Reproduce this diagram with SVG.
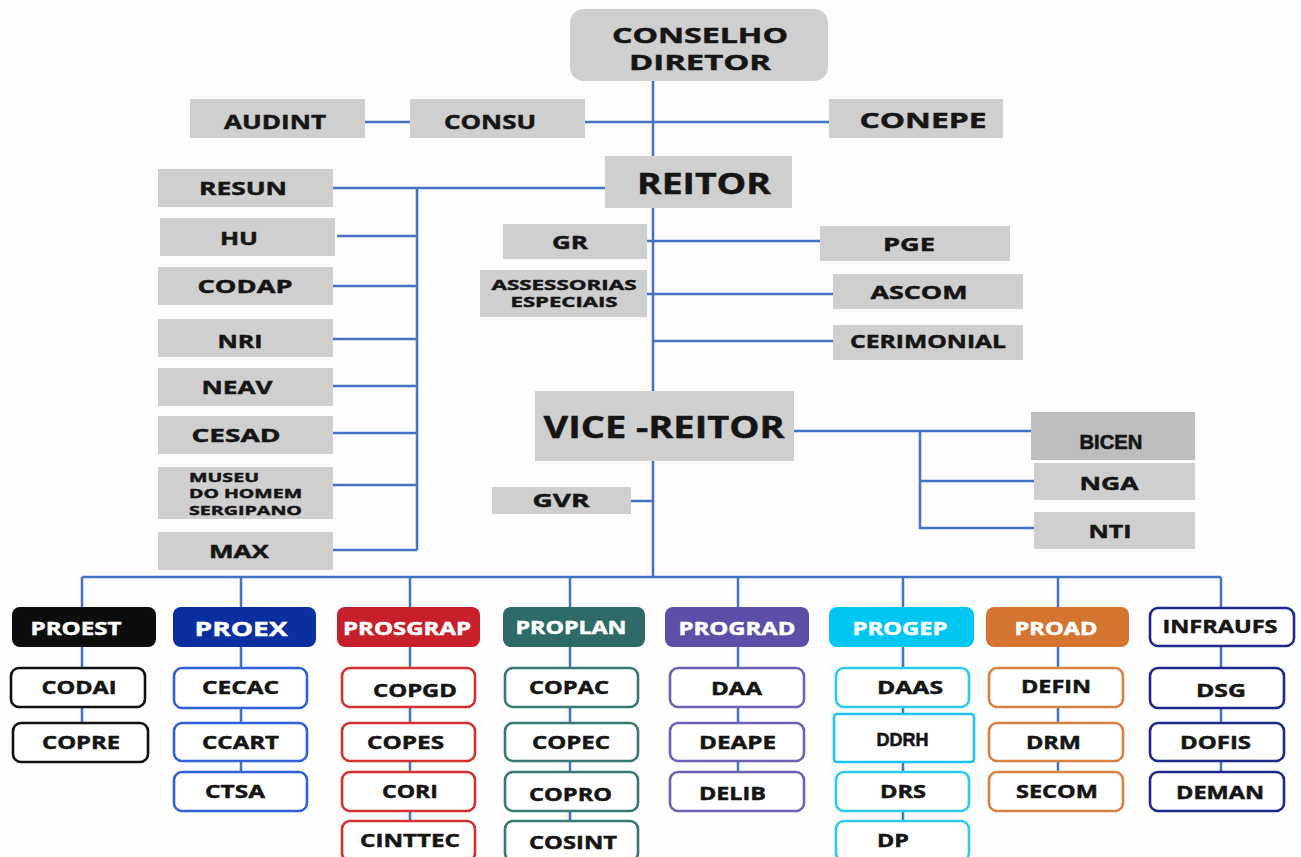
<svg xmlns="http://www.w3.org/2000/svg" width="1301" height="857" viewBox="0 0 1301 857" font-size="18">
<style>
.g{fill:#cfcfcf}
.t{font-family:"Open Sans","DejaVu Sans",sans-serif;font-weight:700;fill:#151515;stroke:#151515;stroke-width:0.45;text-anchor:middle}
.w{fill:#fff;stroke:#fff}
.ln{stroke:#4472c4;stroke-width:2.5;fill:none}
.c{fill:#fff;stroke-width:2.6}
.h{font-size:17px}
.cal{font-family:"Liberation Sans",Arial,sans-serif;font-weight:700;stroke-width:0.6}
</style>
<rect width="1301" height="857" fill="#fdfdfd"/>
<g id="connectors" class="ln">
<path d="M653 81V577"/>
<path d="M365 122H410M585 122H829"/>
<path d="M333 188H605M417 188V550"/>
<path d="M337 236H417M333 286H417M333 339H417M333 386H417M333 433H417M333 485H417M333 550H417"/>
<path d="M647 241H820M647 294H833M653 341H833"/>
<path d="M794 431H1032M920 431V528H1034M920 481H1034"/>
<path d="M631 501H653"/>
<path d="M82 577H1221"/>
<path d="M82 577V723M241 577V772M410 577V821M570 577V821M738 577V772M903 577V821M1058 577V772M1221 577V772"/>
</g>
<g id="conselho"><rect x="570" y="9" width="258" height="72" rx="14" class="g"/><text class="t" x="700" y="43" font-size="21" textLength="176" lengthAdjust="spacingAndGlyphs">CONSELHO</text><text class="t" x="700" y="70" font-size="21" textLength="142" lengthAdjust="spacingAndGlyphs">DIRETOR</text></g>
<g id="audint"><rect x="190" y="99" width="175" height="39" class="g"/><text class="t" x="275" y="129" font-size="19" textLength="102" lengthAdjust="spacingAndGlyphs">AUDINT</text></g>
<g id="consu"><rect x="410" y="99" width="175" height="39" class="g"/><text class="t" x="490" y="129" font-size="19" textLength="92" lengthAdjust="spacingAndGlyphs">CONSU</text></g>
<g id="conepe"><rect x="829" y="99" width="174" height="39" class="g"/><text class="t" x="923" y="128" font-size="22" textLength="127" lengthAdjust="spacingAndGlyphs">CONEPE</text></g>
<g id="reitor"><rect x="605" y="156" width="187" height="52" class="g"/><text class="t" x="704" y="194" font-size="28" textLength="134" lengthAdjust="spacingAndGlyphs">REITOR</text></g>
<g id="resun"><rect x="158" y="169" width="175" height="38" class="g"/><text class="t" x="243" y="195" textLength="88" lengthAdjust="spacingAndGlyphs">RESUN</text></g>
<g id="hu"><rect x="160" y="218" width="175" height="38" class="g"/><text class="t" x="239" y="245" textLength="38" lengthAdjust="spacingAndGlyphs">HU</text></g>
<g id="codap"><rect x="158" y="267" width="175" height="38" class="g"/><text class="t" x="245" y="293" textLength="95" lengthAdjust="spacingAndGlyphs">CODAP</text></g>
<g id="nri"><rect x="158" y="319" width="175" height="38" class="g"/><text class="t" x="240" y="348" textLength="45" lengthAdjust="spacingAndGlyphs">NRI</text></g>
<g id="neav"><rect x="158" y="368" width="175" height="38" class="g"/><text class="t" x="237" y="394" textLength="71" lengthAdjust="spacingAndGlyphs">NEAV</text></g>
<g id="cesad"><rect x="158" y="416" width="175" height="38" class="g"/><text class="t" x="236" y="442" textLength="89" lengthAdjust="spacingAndGlyphs">CESAD</text></g>
<g id="museu"><rect x="158" y="467" width="175" height="52" class="g"/><text class="t" x="189" y="482" font-size="13" style="text-anchor:start" textLength="70" lengthAdjust="spacingAndGlyphs">MUSEU</text><text class="t" x="189" y="498" font-size="13" style="text-anchor:start" textLength="113" lengthAdjust="spacingAndGlyphs">DO HOMEM</text><text class="t" x="189" y="515" font-size="13" style="text-anchor:start" textLength="113" lengthAdjust="spacingAndGlyphs">SERGIPANO</text></g>
<g id="max"><rect x="158" y="532" width="175" height="38" class="g"/><text class="t" x="239" y="558" textLength="60" lengthAdjust="spacingAndGlyphs">MAX</text></g>
<g id="gr"><rect x="503" y="224" width="144" height="35" class="g"/><text class="t" x="570" y="249" textLength="36" lengthAdjust="spacingAndGlyphs">GR</text></g>
<g id="pge"><rect x="820" y="226" width="190" height="35" class="g"/><text class="t" x="909" y="251" textLength="52" lengthAdjust="spacingAndGlyphs">PGE</text></g>
<g id="assessorias"><rect x="480" y="270" width="167" height="47" class="g"/><text class="t" x="564" y="290" font-size="14" textLength="145" lengthAdjust="spacingAndGlyphs">ASSESSORIAS</text><text class="t" x="564" y="307" font-size="14" textLength="107" lengthAdjust="spacingAndGlyphs">ESPECIAIS</text></g>
<g id="ascom"><rect x="833" y="274" width="190" height="35" class="g"/><text class="t" x="919" y="299" textLength="97" lengthAdjust="spacingAndGlyphs">ASCOM</text></g>
<g id="cerimonial"><rect x="833" y="325" width="190" height="35" class="g"/><text class="t" x="928" y="348" font-size="17" textLength="156" lengthAdjust="spacingAndGlyphs">CERIMONIAL</text></g>
<g id="vice-reitor"><rect x="535" y="391" width="259" height="70" class="g"/><text class="t" x="664" y="438" font-size="30" textLength="241" lengthAdjust="spacingAndGlyphs">VICE -REITOR</text></g>
<g id="bicen"><rect x="1031" y="412" width="164" height="48" fill="#bdbdbd"/><text class="t cal" x="1111" y="449" font-size="21" textLength="63" lengthAdjust="spacingAndGlyphs">BICEN</text></g>
<g id="nga"><rect x="1034" y="463" width="161" height="37" class="g"/><text class="t" x="1109" y="490" textLength="59" lengthAdjust="spacingAndGlyphs">NGA</text></g>
<g id="nti"><rect x="1034" y="512" width="161" height="37" class="g"/><text class="t" x="1110" y="538" textLength="43" lengthAdjust="spacingAndGlyphs">NTI</text></g>
<g id="gvr"><rect x="492" y="487" width="139" height="27" class="g"/><text class="t" x="561" y="507" textLength="57" lengthAdjust="spacingAndGlyphs">GVR</text></g>

<g id="proest"><rect x="12" y="607" width="144" height="40" rx="8" fill="#0d0d0d"/><text class="t h w" x="76" y="635" textLength="91" lengthAdjust="spacingAndGlyphs">PROEST</text></g>
<g id="proex"><rect x="173" y="607" width="143" height="40" rx="8" fill="#0b2f9e"/><text class="t w" x="241" y="636" font-size="20" textLength="93" lengthAdjust="spacingAndGlyphs">PROEX</text></g>
<g id="prosgrap"><rect x="337" y="607" width="143" height="40" rx="8" fill="#c8202a"/><text class="t h w" x="407" y="635" textLength="128" lengthAdjust="spacingAndGlyphs">PROSGRAP</text></g>
<g id="proplan"><rect x="503" y="607" width="142" height="40" rx="8" fill="#2d6a68"/><text class="t h w" x="571" y="634" textLength="111" lengthAdjust="spacingAndGlyphs">PROPLAN</text></g>
<g id="prograd"><rect x="665" y="607" width="144" height="40" rx="8" fill="#5b4fa8"/><text class="t h w" x="737" y="635" textLength="117" lengthAdjust="spacingAndGlyphs">PROGRAD</text></g>
<g id="progep"><rect x="829" y="607" width="145" height="40" rx="8" fill="#00c6f2"/><text class="t h w" x="900" y="635" textLength="95" lengthAdjust="spacingAndGlyphs">PROGEP</text></g>
<g id="proad"><rect x="986" y="607" width="143" height="40" rx="8" fill="#d37430"/><text class="t h w" x="1056" y="635" textLength="83" lengthAdjust="spacingAndGlyphs">PROAD</text></g>
<g id="infraufs"><rect x="1150" y="608" width="144" height="38" rx="8" class="c" stroke="#1d2a8a"/><text class="t h" x="1220" y="633" textLength="115" lengthAdjust="spacingAndGlyphs">INFRAUFS</text></g>

<g id="codai"><rect x="11" y="668" width="134" height="39" rx="8" class="c" stroke="#111"/><text class="t h" x="79" y="694" textLength="75" lengthAdjust="spacingAndGlyphs">CODAI</text></g>
<g id="copre"><rect x="13" y="723" width="135" height="39" rx="8" class="c" stroke="#111"/><text class="t h" x="81" y="749" textLength="78" lengthAdjust="spacingAndGlyphs">COPRE</text></g>

<g id="cecac"><rect x="174" y="668" width="133" height="40" rx="8" class="c" stroke="#2f62d6"/><text class="t h" x="240.5" y="694" textLength="77" lengthAdjust="spacingAndGlyphs">CECAC</text></g>
<g id="ccart"><rect x="174" y="723" width="133" height="38" rx="8" class="c" stroke="#2f62d6"/><text class="t h" x="240.5" y="749" textLength="77" lengthAdjust="spacingAndGlyphs">CCART</text></g>
<g id="ctsa"><rect x="174" y="772" width="133" height="39" rx="8" class="c" stroke="#2f62d6"/><text class="t h" x="235" y="798" textLength="60" lengthAdjust="spacingAndGlyphs">CTSA</text></g>

<g id="copgd"><rect x="342" y="668" width="133" height="39" rx="8" class="c" stroke="#d2312f"/><text class="t h" x="415" y="697" textLength="84" lengthAdjust="spacingAndGlyphs">COPGD</text></g>
<g id="copes"><rect x="342" y="723" width="133" height="38" rx="8" class="c" stroke="#d2312f"/><text class="t h" x="405.5" y="749" textLength="77" lengthAdjust="spacingAndGlyphs">COPES</text></g>
<g id="cori"><rect x="342" y="772" width="133" height="39" rx="8" class="c" stroke="#d2312f"/><text class="t h" x="410" y="798" textLength="56" lengthAdjust="spacingAndGlyphs">CORI</text></g>
<g id="cinttec"><rect x="342" y="821" width="133" height="40" rx="8" class="c" stroke="#d2312f"/><text class="t h" x="410" y="847" textLength="100" lengthAdjust="spacingAndGlyphs">CINTTEC</text></g>

<g id="copac"><rect x="505" y="668" width="133" height="39" rx="8" class="c" stroke="#3a7873"/><text class="t h" x="569" y="694" textLength="80" lengthAdjust="spacingAndGlyphs">COPAC</text></g>
<g id="copec"><rect x="505" y="723" width="133" height="38" rx="8" class="c" stroke="#3a7873"/><text class="t h" x="571" y="749" textLength="78" lengthAdjust="spacingAndGlyphs">COPEC</text></g>
<g id="copro"><rect x="505" y="772" width="133" height="39" rx="8" class="c" stroke="#3a7873"/><text class="t h" x="570.5" y="801" textLength="83" lengthAdjust="spacingAndGlyphs">COPRO</text></g>
<g id="cosint"><rect x="505" y="821" width="133" height="40" rx="8" class="c" stroke="#3a7873"/><text class="t h" x="573" y="849" textLength="88" lengthAdjust="spacingAndGlyphs">COSINT</text></g>

<g id="daa"><rect x="670" y="668" width="134" height="39" rx="8" class="c" stroke="#6e61b5"/><text class="t h" x="736.5" y="695" textLength="51" lengthAdjust="spacingAndGlyphs">DAA</text></g>
<g id="deape"><rect x="670" y="723" width="134" height="38" rx="8" class="c" stroke="#6e61b5"/><text class="t h" x="737.5" y="749" textLength="77" lengthAdjust="spacingAndGlyphs">DEAPE</text></g>
<g id="delib"><rect x="670" y="772" width="134" height="39" rx="8" class="c" stroke="#6e61b5"/><text class="t h" x="732.5" y="800" textLength="67" lengthAdjust="spacingAndGlyphs">DELIB</text></g>

<g id="daas"><rect x="836" y="668" width="133" height="39" rx="8" class="c" stroke="#2bcbef"/><text class="t h" x="910" y="694" textLength="66" lengthAdjust="spacingAndGlyphs">DAAS</text></g>
<g id="ddrh"><rect x="834" y="714" width="140" height="48" rx="3" class="c" stroke="#1fc3f0" stroke-width="3.5"/><text class="t cal" x="902.5" y="746" font-size="19" textLength="52" lengthAdjust="spacingAndGlyphs">DDRH</text></g>
<g id="drs"><rect x="836" y="772" width="133" height="39" rx="8" class="c" stroke="#2bcbef"/><text class="t h" x="903" y="798" textLength="46" lengthAdjust="spacingAndGlyphs">DRS</text></g>
<g id="dp"><rect x="836" y="821" width="133" height="40" rx="8" class="c" stroke="#2bcbef"/><text class="t h" x="893" y="847" textLength="32" lengthAdjust="spacingAndGlyphs">DP</text></g>

<g id="defin"><rect x="989" y="668" width="134" height="39" rx="8" class="c" stroke="#d8803f"/><text class="t h" x="1056" y="693" textLength="70" lengthAdjust="spacingAndGlyphs">DEFIN</text></g>
<g id="drm"><rect x="989" y="723" width="134" height="38" rx="8" class="c" stroke="#d8803f"/><text class="t h" x="1053.5" y="749" textLength="55" lengthAdjust="spacingAndGlyphs">DRM</text></g>
<g id="secom"><rect x="989" y="772" width="134" height="39" rx="8" class="c" stroke="#d8803f"/><text class="t h" x="1057" y="798" textLength="82" lengthAdjust="spacingAndGlyphs">SECOM</text></g>

<g id="dsg"><rect x="1150" y="668" width="134" height="40" rx="8" class="c" stroke="#1d2a8a"/><text class="t h" x="1221" y="697" textLength="50" lengthAdjust="spacingAndGlyphs">DSG</text></g>
<g id="dofis"><rect x="1150" y="723" width="134" height="38" rx="8" class="c" stroke="#1d2a8a"/><text class="t h" x="1215.5" y="749" textLength="71" lengthAdjust="spacingAndGlyphs">DOFIS</text></g>
<g id="deman"><rect x="1150" y="772" width="134" height="39" rx="8" class="c" stroke="#1d2a8a"/><text class="t h" x="1220" y="799" textLength="88" lengthAdjust="spacingAndGlyphs">DEMAN</text></g>
</svg>
